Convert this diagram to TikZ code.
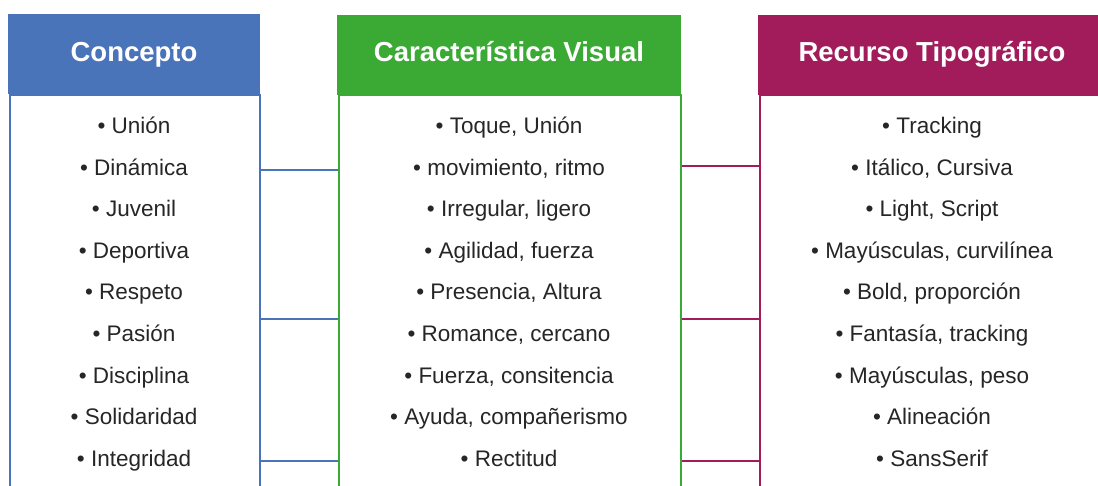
\documentclass[tikz,border=0pt]{standalone}
\usepackage{fontspec}
\setmainfont{Liberation Sans}
\definecolor{cblue}{HTML}{4A74B9}
\definecolor{cgreen}{HTML}{3BAA35}
\definecolor{cmag}{HTML}{A21B5A}
\definecolor{ctext}{HTML}{262626}
\begin{document}
\begin{tikzpicture}[x=1pt,y=-1pt,
  head/.style={anchor=north west,inner sep=0pt,minimum height=80pt},
  bodybox/.style={anchor=north west,inner sep=0pt,minimum height=420pt,fill=white,line width=2pt},
  headtext/.style={anchor=base,text=white,font=\fontsize{27.5}{30}\selectfont\bfseries},
  item/.style={anchor=base,text=ctext,font=\fontsize{22.5}{26}\selectfont},
  link/.style={line width=2pt}]
\useasboundingbox (0,0) rectangle (1098,486);
\begin{scope}
\clip (0,0) rectangle (1098,486);
% bodies
\node[bodybox,draw=cblue,minimum width=250pt] (bA) at (9,94) {};
\node[bodybox,draw=cgreen,minimum width=342pt] (bB) at (338,94) {};
\node[bodybox,draw=cmag,minimum width=346pt] (bC) at (759,94) {};
% headers
\node[head,fill=cblue,minimum width=252pt] (hA) at (8,14) {};
\node[head,fill=cgreen,minimum width=344pt] (hB) at (337,15) {};
\node[head,fill=cmag,minimum width=348pt] (hC) at (758,15) {};
\end{scope}
\node[headtext] (tA) at (134,62) {Concepto};
\node[headtext] (tB) at (509,62) {Característica Visual};
\node[headtext] (tC) at (932,62) {Recurso Tipográfico};
% items
\foreach \t [count=\i] in {Unión,Dinámica,Juvenil,Deportiva,Respeto,Pasión,Disciplina,Solidaridad,Integridad}
  \node[item] (a\i) at (134,{134+41.5*(\i-1)}) {• \t};
\foreach \t [count=\i] in {{Toque, Unión},{movimiento, ritmo},{Irregular, ligero},{Agilidad, fuerza},{Presencia, Altura},{Romance, cercano},{Fuerza, consitencia},{Ayuda, compañerismo},{Rectitud}}
  \node[item] (b\i) at (509,{134+41.5*(\i-1)}) {• \t};
\foreach \t [count=\i] in {{Tracking},{Itálico, Cursiva},{Light, Script},{Mayúsculas, curvilínea},{Bold, proporción},{Fantasía, tracking},{Mayúsculas, peso},{Alineación},{SansSerif}}
  \node[item] (c\i) at (932,{134+41.5*(\i-1)}) {• \t};
% connectors
\foreach \y in {170,319,461}
  \draw[link,cblue] (bA.east |- 0,\y) -- (bB.west |- 0,\y);
\foreach \y in {166,319,461}
  \draw[link,cmag] (bB.east |- 0,\y) -- (bC.west |- 0,\y);
\end{tikzpicture}
\end{document}
